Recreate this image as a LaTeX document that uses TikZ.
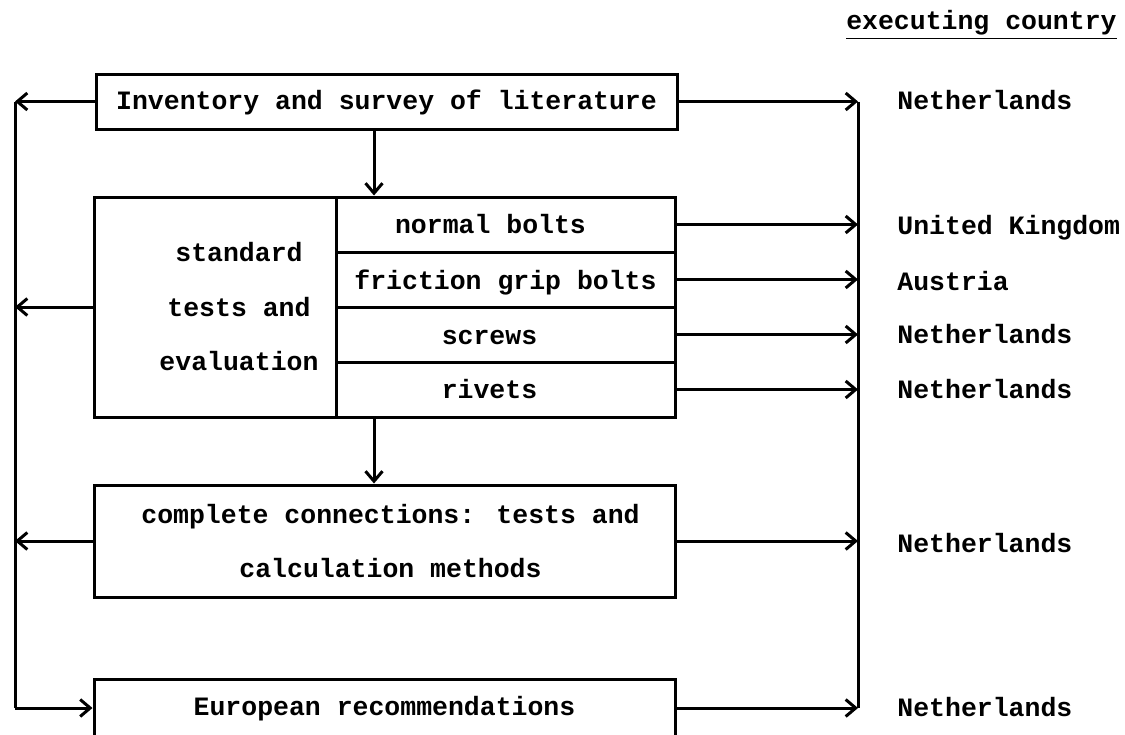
\documentclass[tikz,border=0pt]{standalone}
\usepackage{fontspec}
\setmainfont{Liberation Mono}
\usetikzlibrary{positioning, arrows.meta}

\tikzset{
  txt/.style={font=\bfseries\fontsize{13.25}{27.25}\selectfont, align=center,
              text height=9.5pt, text depth=2pt, inner sep=0pt},
  lines/.style={font=\bfseries\fontsize{13.25}{27.25}\selectfont, align=center,
              inner sep=0pt},
  box/.style={draw, line width=1.5pt, inner sep=0pt},
  wide/.style={box, minimum width=290.5pt},
  cell/.style={box, minimum width=169.5pt, minimum height=27.5pt},
  link/.style={line width=1.5pt},
  >={Straight Barb[length=5pt,width=8.5pt]}
}

\begin{document}
\begin{tikzpicture}[x=0.5pt,y=-0.5pt]
\useasboundingbox (0,0) rectangle (1125,734);
\clip (0,0) rectangle (1125,734);

% heading
\node[txt, anchor=east] (head) at (1117,22) {\underline{executing country}};

% left and right collecting lines
\coordinate (lt) at (15,101.5);
\coordinate (lb) at (15,708);
\coordinate (rt) at (858,101.5);
\coordinate (rb) at (858,708);
\coordinate (mid) at (374,0);

% boxes
\node[wide, minimum height=27.5pt] (inv) at (386.5,101.5) {};
\node[txt] (invtxt) at (inv.center) {Inventory and survey of literature};

\node[box, minimum width=121pt, minimum height=110pt] (std) at (215,307) {};
\node[lines] (stdtxt) at (239,307) {standard\\tests and\\evaluation};
\node[cell] (c1) at (505.5,224.5) {};
\node[cell] (c2) at (505.5,279.5) {};
\node[cell] (c3) at (505.5,334.5) {};
\node[cell] (c4) at (505.5,389.5) {};
\node[txt] (t1) at ([xshift=-7.5pt,yshift=-0.5pt]c1.center) {normal bolts};
\node[txt] (t2) at ([yshift=-1pt]c2.center) {friction grip bolts};
\node[txt] (t3) at ([xshift=-8pt,yshift=-1pt]c3.center) {screws};
\node[txt] (t4) at ([xshift=-8pt,yshift=-0.5pt]c4.center) {rivets};

\node[wide, minimum height=56pt] (com) at (384.5,541) {};
\node[lines] (comtxt) at ([xshift=3pt]com.center) {complete connections: tests and\\calculation methods};

\node[wide, minimum height=29pt] (eur) at (384.5,708) {};
\node[txt] (eurtxt) at (eur.center) {European recommendations};

% countries
\node[txt, anchor=west] (nl1) at (897,101.5) {Netherlands};
\node[txt, anchor=west] (uk)  at (897,227) {United Kingdom};
\node[txt, anchor=west] (au)  at (897,283) {Austria};
\node[txt, anchor=west] (nl2) at (897,336) {Netherlands};
\node[txt, anchor=west] (nl3) at (897,391) {Netherlands};
\node[txt, anchor=west] (nl4) at (897,545) {Netherlands};
\node[txt, anchor=west] (nl5) at (897,709) {Netherlands};

% connectors
\draw[link] (lt) -- (lb);
\draw[link] (rt) -- (rb);
\draw[link,->] (inv.west) -- (lt);
\draw[link,->] (inv.east) -- (rt);
\draw[link,->] (inv.south -| mid) -- (c1.north -| mid);
\draw[link,->] (std.west) -- (std.west -| lt);
\foreach \c in {c1,c2,c3,c4}
  \draw[link,->] (\c.east) -- (\c.east -| rt);
\draw[link,->] (c4.south -| mid) -- (com.north -| mid);
\draw[link,->] (com.west) -- (com.west -| lt);
\draw[link,->] (com.east) -- (com.east -| rt);
\draw[link,->] (lb) -- (eur.west);
\draw[link,->] (eur.east) -- (rb);

\end{tikzpicture}
\end{document}
